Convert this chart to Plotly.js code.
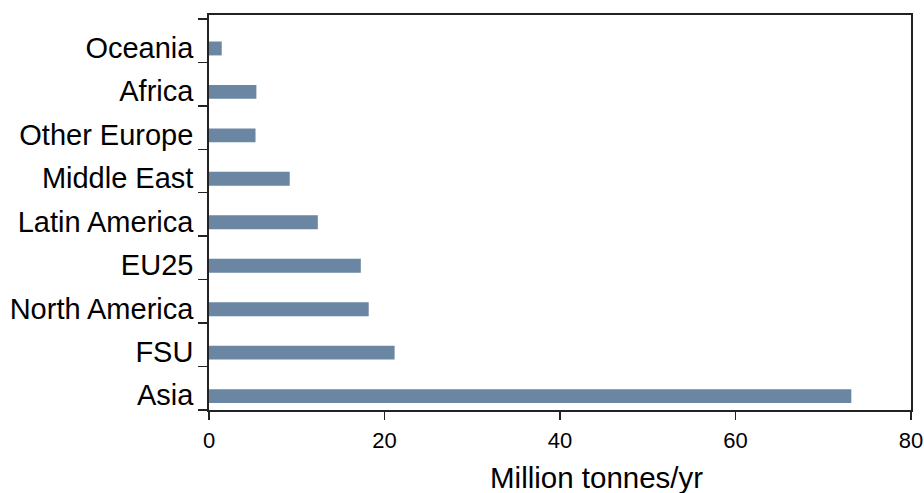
<!DOCTYPE html>
<html>
<head>
<meta charset="utf-8">
<script src="https://cdn.plot.ly/plotly-3.0.1.min.js"></script>
<style>
html,body{margin:0;padding:0;background:#fff;}
#chart{width:924px;height:493px;}
</style>
</head>
<body>
<div id="chart"></div>
<script>
// Data (bottom to top)
const regions = ["Asia", "FSU", "North America", "EU25", "Latin America", "Middle East", "Other Europe", "Africa", "Oceania"];
const production = [73.2, 21.15, 18.2, 17.3, 12.4, 9.2, 5.3, 5.4, 1.45];
const xTickVals = [0, 20, 40, 60, 80];
const xTitle = "Million tonnes/yr";

const FONT = "Liberation Sans, Arial, sans-serif";

const trace = {
  type: "bar",
  orientation: "h",
  y: regions,
  x: production,
  width: 0.32,
  offset: -0.34,
  marker: {color: "rgb(106,134,163)", line: {width: 0}},
  hoverinfo: "x+y"
};

const layout = {
  width: 924,
  height: 493,
  margin: {l: 209, r: 13, t: 15, b: 83},
  paper_bgcolor: "#ffffff",
  plot_bgcolor: "#ffffff",
  showlegend: false,
  font: {family: FONT, color: "#000"},
  xaxis: {
    range: [0, 80],
    tickvals: xTickVals,
    ticks: "outside",
    ticklen: 8,
    tickwidth: 1.5,
    tickcolor: "#222",
    showline: true,
    linecolor: "#222",
    linewidth: 1.8,
    mirror: true,
    showgrid: false,
    zeroline: false,
    tickfont: {family: FONT, size: 22, color: "#000"},
    ticklabelstandoff: 2
  },
  yaxis: {
    type: "category",
    categoryorder: "array",
    categoryarray: regions,
    range: [-0.5, 8.59],
    tickson: "boundaries",
    ticks: "outside",
    ticklen: 9,
    tickwidth: 1.5,
    tickcolor: "#222",
    showline: true,
    linecolor: "#222",
    linewidth: 1.8,
    mirror: true,
    showgrid: false,
    zeroline: false,
    tickfont: {family: FONT, size: 29, color: "#000"},
    ticklabelshift: 7,
    ticklabelstandoff: 8
  },
  annotations: [{
    text: xTitle,
    xref: "paper", yref: "paper",
    x: (596 - 209) / 701.7, y: -0.125,
    xanchor: "center", yanchor: "top",
    showarrow: false,
    font: {family: FONT, size: 29.5, color: "#000"}
  }]
};

Plotly.newPlot("chart", [trace], layout, {displayModeBar: false, staticPlot: true});
</script>
</body>
</html>
